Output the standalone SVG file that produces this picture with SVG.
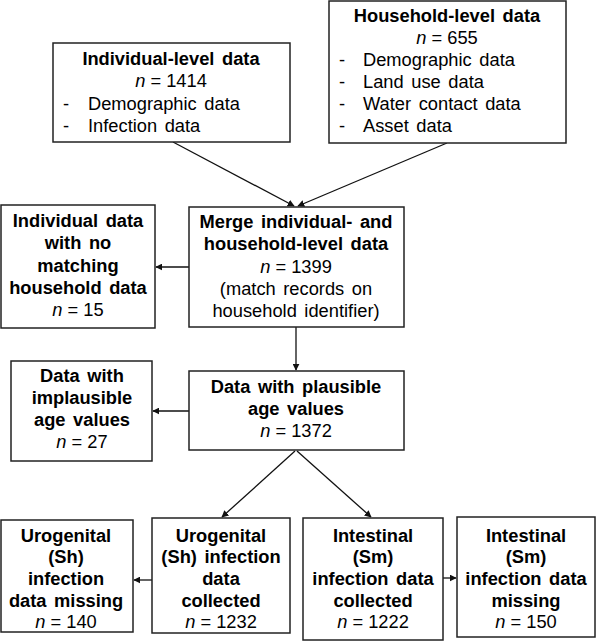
<svg xmlns="http://www.w3.org/2000/svg" width="597" height="642" viewBox="0 0 597 642">
<defs>
<style>
.box{fill:#fff;stroke:#222;stroke-width:1.5}
text{font-family:"Liberation Sans",Arial,sans-serif;font-size:18.3px;word-spacing:2.5px;fill:#000}
.b{font-weight:bold}
.c{text-anchor:middle}
.n{word-spacing:0}
.con{stroke:#111;stroke-width:1.3;fill:none;marker-end:url(#ah)}
</style>
<marker id="ah" viewBox="0 0 10 10" refX="9" refY="5" markerWidth="7" markerHeight="7" markerUnits="userSpaceOnUse" orient="auto">
<path d="M0,0 L10,5 L0,10 z" fill="#111"/>
</marker>
</defs>
<rect width="597" height="642" fill="#fff"/>
<g id="connectors">
<line class="con" x1="173" y1="142" x2="294" y2="206"/>
<line class="con" x1="447" y1="143" x2="298" y2="206"/>
<line class="con" x1="189" y1="267" x2="156" y2="267"/>
<line class="con" x1="296" y1="327" x2="296" y2="370"/>
<line class="con" x1="189" y1="411" x2="153" y2="411"/>
<line class="con" x1="295" y1="451" x2="222" y2="517"/>
<line class="con" x1="297" y1="451" x2="371" y2="517"/>
<line class="con" x1="152" y1="580" x2="134" y2="580"/>
<line class="con" x1="443" y1="578" x2="456" y2="578"/>
</g>
<g id="individual">
<rect class="box" x="53" y="43" width="237" height="99"/>
<text class="b c" x="171" y="65">Individual-level data</text>
<text class="c n" x="171" y="87"><tspan font-style="italic">n</tspan> = 1414</text>
<text x="63" y="110">-</text><text x="88" y="110">Demographic data</text>
<text x="63" y="132">-</text><text x="88" y="132">Infection data</text>
</g>
<g id="household">
<rect class="box" x="329" y="1" width="237" height="142"/>
<text class="b c" x="447" y="22">Household-level data</text>
<text class="c n" x="447" y="44"><tspan font-style="italic">n</tspan> = 655</text>
<text x="339" y="66">-</text><text x="363" y="66">Demographic data</text>
<text x="339" y="88">-</text><text x="363" y="88">Land use data</text>
<text x="339" y="110">-</text><text x="363" y="110">Water contact data</text>
<text x="339" y="132">-</text><text x="363" y="132">Asset data</text>
</g>
<g id="merge">
<rect class="box" x="189" y="207" width="215" height="120"/>
<text class="b c" x="296" y="228">Merge individual- and</text>
<text class="b c" x="296" y="250">household-level data</text>
<text class="c n" x="296" y="273"><tspan font-style="italic">n</tspan> = 1399</text>
<text class="c" x="296" y="295">(match records on</text>
<text class="c" x="296" y="317">household identifier)</text>
</g>
<g id="nomatch">
<rect class="box" x="1" y="205" width="154" height="123"/>
<text class="b c" x="78" y="227">Individual data</text>
<text class="b c" x="78" y="249">with no</text>
<text class="b c" x="78" y="272">matching</text>
<text class="b c" x="78" y="294">household data</text>
<text class="c n" x="78" y="316"><tspan font-style="italic">n</tspan> = 15</text>
</g>
<g id="implausible">
<rect class="box" x="11" y="361" width="141" height="100"/>
<text class="b c" x="82" y="382">Data with</text>
<text class="b c" x="82" y="404">implausible</text>
<text class="b c" x="82" y="426">age values</text>
<text class="c n" x="82" y="448"><tspan font-style="italic">n</tspan> = 27</text>
</g>
<g id="plausible">
<rect class="box" x="189" y="371" width="215" height="79"/>
<text class="b c" x="296" y="393">Data with plausible</text>
<text class="b c" x="296" y="415">age values</text>
<text class="c n" x="296" y="437"><tspan font-style="italic">n</tspan> = 1372</text>
</g>
<g id="uro-missing">
<rect class="box" x="1" y="520" width="132" height="112"/>
<text class="b c" x="66" y="542">Urogenital</text>
<text class="b c" x="66" y="563">(Sh)</text>
<text class="b c" x="66" y="585">infection</text>
<text class="b c" x="66" y="607">data missing</text>
<text class="c n" x="66" y="628"><tspan font-style="italic">n</tspan> = 140</text>
</g>
<g id="uro-collected">
<rect class="box" x="152" y="518" width="138" height="115"/>
<text class="b c" x="221" y="542">Urogenital</text>
<text class="b c" x="221" y="563">(Sh) infection</text>
<text class="b c" x="221" y="585">data</text>
<text class="b c" x="221" y="607">collected</text>
<text class="c n" x="221" y="628"><tspan font-style="italic">n</tspan> = 1232</text>
</g>
<g id="int-collected">
<rect class="box" x="303" y="518" width="140" height="122"/>
<text class="b c" x="373" y="542">Intestinal</text>
<text class="b c" x="373" y="563">(Sm)</text>
<text class="b c" x="373" y="585">infection data</text>
<text class="b c" x="373" y="607">collected</text>
<text class="c n" x="373" y="628"><tspan font-style="italic">n</tspan> = 1222</text>
</g>
<g id="int-missing">
<rect class="box" x="457" y="517" width="138" height="120"/>
<text class="b c" x="526" y="542">Intestinal</text>
<text class="b c" x="526" y="563">(Sm)</text>
<text class="b c" x="526" y="585">infection data</text>
<text class="b c" x="526" y="607">missing</text>
<text class="c n" x="526" y="628"><tspan font-style="italic">n</tspan> = 150</text>
</g>
</svg>
